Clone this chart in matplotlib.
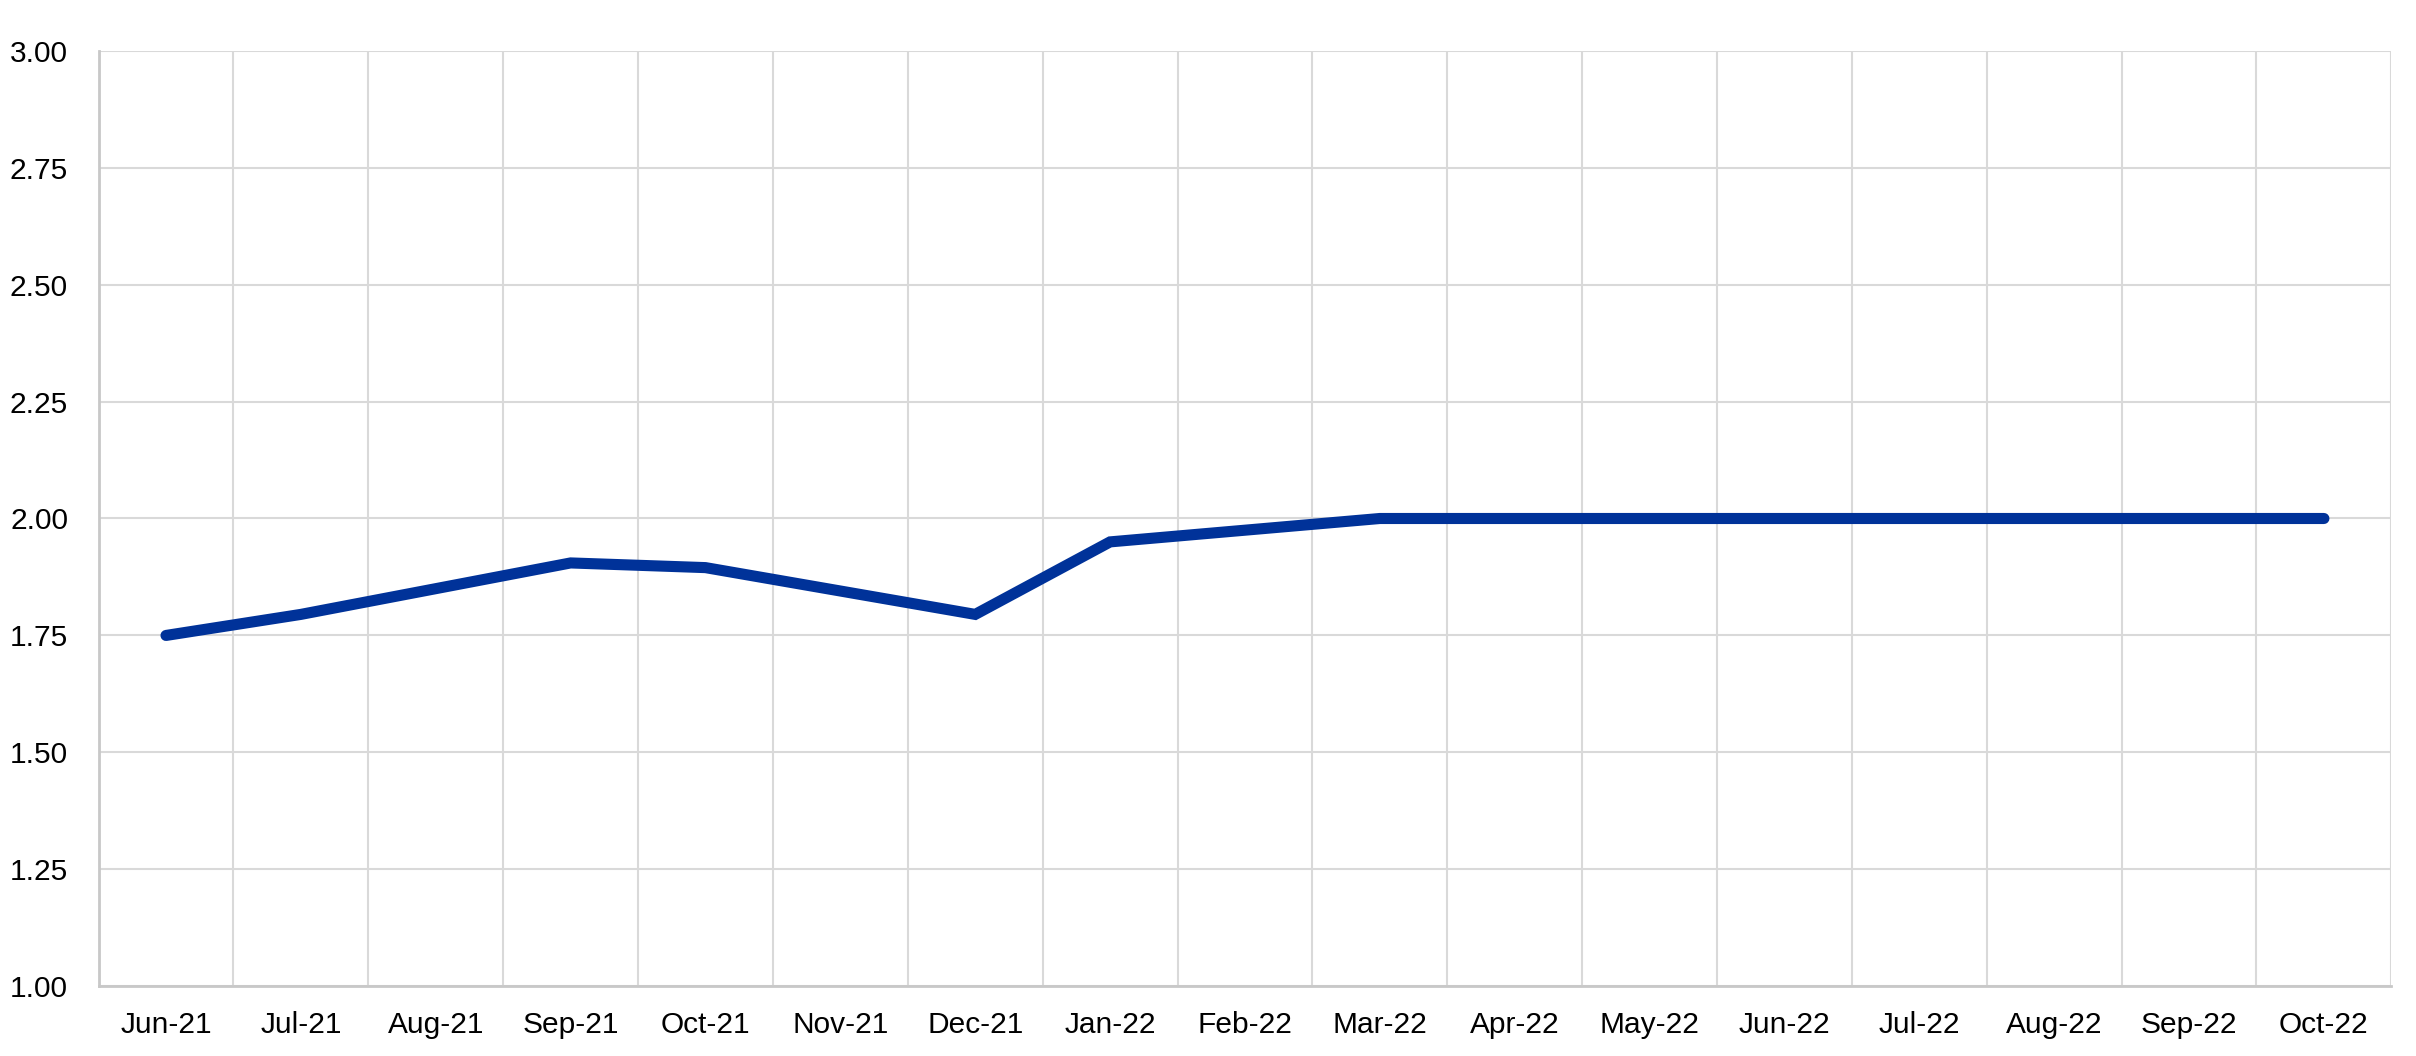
import matplotlib
matplotlib.use("Agg")
import matplotlib.pyplot as plt
import numpy as np

months = ["Jun-21", "Jul-21", "Aug-21", "Sep-21", "Oct-21", "Nov-21", "Dec-21",
          "Jan-22", "Feb-22", "Mar-22", "Apr-22", "May-22", "Jun-22", "Jul-22",
          "Aug-22", "Sep-22", "Oct-22"]
values = [1.75, 1.795, 1.85, 1.905, 1.895, 1.845, 1.795,
          1.95, 1.975, 2.00, 2.00, 2.00, 2.00, 2.00,
          2.00, 2.00, 2.00]
yticks = [1.00, 1.25, 1.50, 1.75, 2.00, 2.25, 2.50, 2.75, 3.00]

plt.rcParams['font.family'] = ['Liberation Sans', 'DejaVu Sans']

fig = plt.figure(figsize=(24.16, 10.56), dpi=100)
ax = fig.add_axes([0.0408, 0.066, 0.949, 0.886])

x = np.arange(len(months))
ax.plot(x, values, color="#003299", linewidth=8, solid_capstyle="round",
        solid_joinstyle="miter", zorder=3)

ax.set_xlim(-0.5, len(months) - 0.5)
ax.set_ylim(1.0, 3.0)
ax.set_yticks(yticks)
ax.set_yticklabels([f"{v:.2f}" for v in yticks])
ax.set_xticks(x)
ax.set_xticklabels(months)
ax.set_xticks(np.arange(len(months)) + 0.5, minor=True)

ax.grid(axis="y", which="major", color="#d9d9d9", linewidth=1.5, zorder=0)
ax.grid(axis="x", which="minor", color="#d9d9d9", linewidth=1.5, zorder=0)
ax.grid(axis="x", which="major", visible=False)

ax.tick_params(axis="both", which="both", length=0, labelsize=21.5, colors="black")
ax.tick_params(axis="x", pad=18)
ax.tick_params(axis="y", pad=22)

for s in ["top", "right"]:
    ax.spines[s].set_visible(False)
ax.spines["left"].set_color("#c8c8c8")
ax.spines["left"].set_linewidth(2)
ax.spines["bottom"].set_color("#c8c8c8")
ax.spines["bottom"].set_linewidth(2)

fig.savefig("out.png", dpi=100, facecolor="white")
